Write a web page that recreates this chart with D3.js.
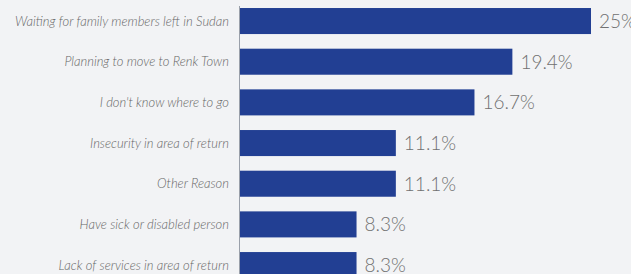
<!DOCTYPE html>
<html>
<head>
<meta charset="utf-8">
<script src="https://cdn.jsdelivr.net/npm/d3@7"></script>
<style>
  html, body { margin: 0; padding: 0; background: #f2f3f5; overflow: hidden; }
</style>
</head>
<body>
<div id="chart"></div>
<script>
const reasons = [
    "Waiting for family members left in Sudan",
    "Planning to move to Renk Town",
    "I don't know where to go",
    "Insecurity in area of return",
    "Other Reason",
    "Have sick or disabled person",
    "Lack of services in area of return"
];
const shares = [25, 19.4, 16.7, 11.1, 11.1, 8.3, 8.3];
const shareLabels = ["25%", "19.4%", "16.7%", "11.1%", "11.1%", "8.3%", "8.3%"];

const width = 631;
const height = 274;
const axisX = 240;

const svg = d3.select('#chart')
    .append('svg')
        .attr('width', width)
        .attr('height', height);

const x = d3.scaleLinear()
    .domain([0, 25])
    .range([axisX, 591]);

// step ~40.7px, bars ~26px tall, first bar at y=8
const y = d3.scaleBand()
    .domain(reasons)
    .range([0.7, 285.4])
    .paddingInner(0.36)
    .paddingOuter(0.18);

const rows = reasons.map((r, i) => ({ reason: r, value: shares[i], label: shareLabels[i] }));

svg.append('line')
    .attr('x1', axisX - 0.5)
    .attr('x2', axisX - 0.5)
    .attr('y1', 6)
    .attr('y2', height)
    .attr('stroke', '#9aa0aa')
    .attr('stroke-width', 1);

const g = svg.selectAll('g.row')
    .data(rows)
    .join('g')
        .attr('class', 'row');

g.append('rect')
    .attr('x', x(0))
    .attr('y', d => y(d.reason))
    .attr('width', d => x(d.value) - x(0))
    .attr('height', y.bandwidth())
    .attr('fill', '#223f93');

g.append('text')
    .attr('x', 229)
    .attr('y', d => y(d.reason) + y.bandwidth() / 2)
    .attr('dy', '0.35em')
    .attr('text-anchor', 'end')
    .attr('font-family', 'Lato, sans-serif')
    .attr('font-style', 'italic')
    .attr('font-weight', 300)
    .attr('font-size', '13px')
    .attr('fill', '#666')
    .text(d => d.reason);

g.append('text')
    .attr('x', d => x(d.value) + 8)
    .attr('y', d => y(d.reason) + y.bandwidth() / 2)
    .attr('dy', '0.36em')
    .attr('font-family', 'Lato, sans-serif')
    .attr('font-weight', 300)
    .attr('font-size', '19px')
    .attr('fill', '#707070')
    .text(d => d.label);
</script>
</body>
</html>
